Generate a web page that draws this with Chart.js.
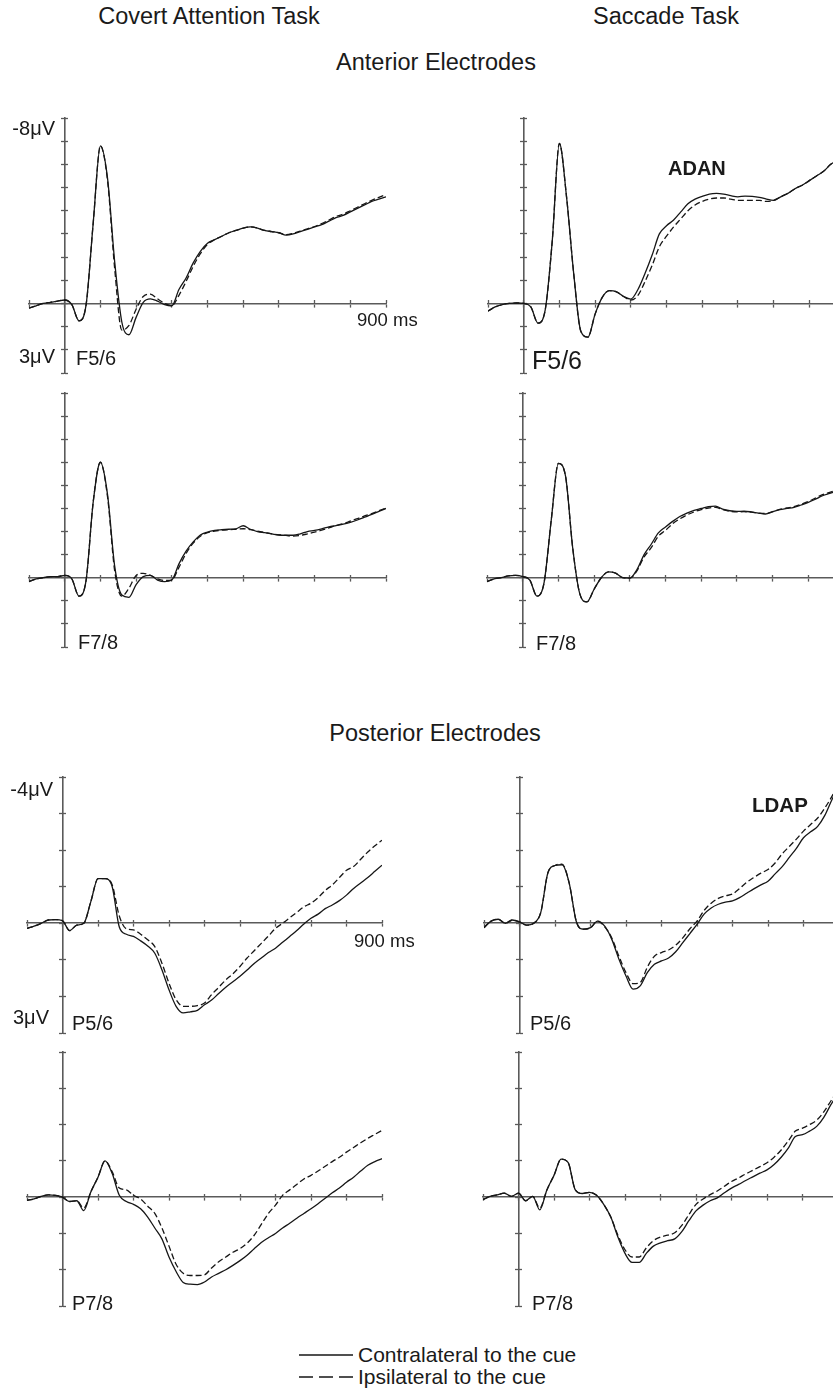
<!DOCTYPE html>
<html>
<head>
<meta charset="utf-8">
<script src="https://cdn.jsdelivr.net/npm/chart.js@4.4.1/dist/chart.umd.min.js"></script>
<style>
  html, body { margin: 0; padding: 0; background: #fff; overflow: hidden; }
  body { position: relative; width: 833px; height: 1390px; font-family: 'Liberation Sans', Arial, Helvetica, sans-serif; color: #1a1a1a; }
  .t { position: absolute; white-space: nowrap; line-height: 1; }
  canvas { position: absolute; }
</style>
</head>
<body>
<script>
// time points (ms), shared by every panel
const times = [-100, -80, -60, -40, -20, 0, 20, 40, 60, 80, 100, 120, 140, 160, 180, 200, 220, 240, 260, 280,
  300, 320, 340, 360, 380, 400, 420, 440, 460, 480, 500, 520, 540, 560, 580, 600, 620, 640, 660, 680,
  700, 720, 740, 760, 780, 800, 820, 840, 860, 880, 900];

// amplitudes in microvolts (negative plotted up)
const covertF56Contra = [0.2, 0.1, 0.0, -0.05, -0.1, -0.15, 0.05, 0.75, 0.05, -3.5, -6.8, -5.4, -1.8, 0.8, 1.35, 0.6, -0.05, -0.2, -0.1, 0.05,
  0.1, -0.6, -1.1, -1.75, -2.25, -2.6, -2.75, -2.9, -3.05, -3.15, -3.25, -3.3, -3.25, -3.15, -3.1, -3.05, -2.95, -3.0, -3.1, -3.2,
  -3.3, -3.4, -3.55, -3.7, -3.8, -3.95, -4.1, -4.25, -4.4, -4.5, -4.6];
const covertF56Ipsi = [0.2, 0.1, 0.0, -0.05, -0.1, -0.15, 0.05, 0.75, 0.05, -3.5, -6.8, -5.3, -1.5, 1.15, 0.95, 0.25, -0.3, -0.4, -0.2, 0.0,
  0.1, -0.35, -0.95, -1.6, -2.15, -2.55, -2.75, -2.9, -3.05, -3.15, -3.25, -3.3, -3.25, -3.15, -3.1, -3.05, -2.97, -3.02, -3.12, -3.22,
  -3.32, -3.45, -3.6, -3.75, -3.85, -4.0, -4.15, -4.3, -4.45, -4.58, -4.7];

const covertF78Contra = [0.17, 0.05, 0.0, -0.05, -0.05, -0.1, 0.05, 0.8, 0.1, -3.3, -5.0, -3.6, -0.5, 0.75, 0.85, 0.3, -0.05, -0.1, 0.1, 0.17,
  0.1, -0.6, -1.15, -1.55, -1.85, -1.98, -2.05, -2.08, -2.1, -2.12, -2.25, -2.1, -2.0, -1.95, -1.9, -1.85, -1.84, -1.84, -1.9, -2.0,
  -2.05, -2.12, -2.2, -2.26, -2.32, -2.4, -2.5, -2.62, -2.74, -2.87, -3.0];
const covertF78Ipsi = [0.17, 0.05, 0.0, -0.05, -0.05, -0.1, 0.05, 0.8, 0.1, -3.3, -5.0, -3.5, -0.3, 0.8, 0.45, -0.1, -0.19, -0.1, 0.05, 0.12,
  0.1, -0.45, -1.05, -1.5, -1.8, -1.95, -2.02, -2.06, -2.08, -2.1, -2.12, -2.08, -2.02, -1.96, -1.9, -1.86, -1.83, -1.8, -1.83, -1.9,
  -1.98, -2.06, -2.16, -2.26, -2.34, -2.45, -2.56, -2.68, -2.78, -2.9, -3.02];

const saccF56Contra = [0.33, 0.15, 0.05, 0.0, -0.02, 0.0, 0.15, 0.85, 0.3, -2.7, -6.9, -4.6, -1.3, 1.2, 1.45, 0.46, -0.26, -0.55, -0.5, -0.3,
  -0.19, -0.6, -1.3, -2.1, -3.0, -3.35, -3.6, -3.95, -4.3, -4.5, -4.62, -4.72, -4.75, -4.72, -4.65, -4.6, -4.63, -4.62, -4.58, -4.5,
  -4.45, -4.6, -4.75, -4.95, -5.1, -5.3, -5.5, -5.7, -6.0, -6.2, -6.4];
const saccF56Ipsi = [0.33, 0.15, 0.05, 0.0, -0.02, 0.0, 0.15, 0.85, 0.3, -2.7, -6.9, -4.6, -1.3, 1.2, 1.45, 0.46, -0.26, -0.55, -0.5, -0.3,
  -0.15, -0.35, -0.95, -1.65, -2.45, -2.9, -3.3, -3.65, -4.0, -4.25, -4.4, -4.5, -4.55, -4.55, -4.5, -4.45, -4.45, -4.45, -4.45, -4.4,
  -4.45, -4.6, -4.75, -4.95, -5.1, -5.3, -5.5, -5.7, -6.0, -6.2, -6.4];

const saccF78Contra = [0.17, 0.05, 0.0, -0.08, -0.1, -0.05, 0.1, 0.8, 0.2, -2.5, -4.95, -4.4, -1.3, 0.7, 1.05, 0.5, 0.0, -0.25, -0.2, 0.0,
  0.02, -0.35, -1.0, -1.45, -1.94, -2.2, -2.44, -2.65, -2.8, -2.92, -3.0, -3.08, -3.1, -2.97, -2.9, -2.87, -2.88, -2.85, -2.8, -2.76,
  -2.85, -2.95, -3.0, -3.05, -3.15, -3.26, -3.4, -3.55, -3.65, -3.75, -3.85];
const saccF78Ipsi = [0.17, 0.05, 0.0, -0.08, -0.1, -0.05, 0.1, 0.8, 0.2, -2.5, -4.95, -4.4, -1.3, 0.7, 1.05, 0.5, 0.0, -0.25, -0.2, 0.0,
  0.02, -0.3, -0.9, -1.3, -1.8, -2.05, -2.34, -2.55, -2.72, -2.85, -2.95, -3.02, -3.05, -2.95, -2.88, -2.85, -2.86, -2.84, -2.8, -2.78,
  -2.86, -2.96, -3.02, -3.08, -3.18, -3.3, -3.45, -3.6, -3.7, -3.8, -3.9];

const covertP56Contra = [0.14, 0.08, 0.0, -0.09, -0.1, -0.07, 0.2, 0.05, 0.0, -0.6, -1.22, -1.22, -1.0, 0.1, 0.3, 0.36, 0.48, 0.62, 0.82, 1.27,
  1.82, 2.27, 2.45, 2.42, 2.38, 2.23, 2.1, 1.92, 1.75, 1.6, 1.45, 1.28, 1.1, 0.95, 0.8, 0.68, 0.52, 0.36, 0.2, 0.02,
  -0.14, -0.25, -0.4, -0.5, -0.62, -0.77, -0.95, -1.1, -1.25, -1.42, -1.59];
const covertP56Ipsi = [0.14, 0.08, 0.0, -0.09, -0.1, -0.07, 0.2, 0.05, 0.0, -0.6, -1.22, -1.22, -1.05, -0.2, 0.15, 0.18, 0.3, 0.45, 0.64, 1.09,
  1.64, 2.09, 2.27, 2.27, 2.25, 2.18, 1.95, 1.75, 1.55, 1.38, 1.18, 0.95, 0.75, 0.55, 0.35, 0.14, 0.0, -0.15, -0.3, -0.45,
  -0.55, -0.7, -0.9, -1.05, -1.25, -1.45, -1.55, -1.75, -1.95, -2.12, -2.27];

const saccP56Contra = [0.12, -0.06, -0.11, 0.0, -0.09, -0.04, 0.05, 0.0, -0.3, -1.38, -1.58, -1.6, -1.1, -0.05, 0.16, 0.12, -0.06, 0.08, 0.44, 0.98,
  1.44, 1.8, 1.71, 1.35, 1.12, 1.03, 0.95, 0.78, 0.53, 0.28, 0.03, -0.25, -0.42, -0.52, -0.58, -0.61, -0.7, -0.82, -0.94, -1.05,
  -1.15, -1.35, -1.55, -1.8, -2.05, -2.34, -2.5, -2.65, -2.95, -3.38, -3.75];
const saccP56Ipsi = [0.12, -0.06, -0.11, 0.0, -0.09, -0.04, 0.05, 0.0, -0.3, -1.38, -1.58, -1.62, -1.1, -0.05, 0.16, 0.12, -0.06, 0.1, 0.4, 0.9,
  1.35, 1.65, 1.62, 1.2, 0.9, 0.8, 0.73, 0.6, 0.4, 0.15, -0.06, -0.35, -0.55, -0.68, -0.75, -0.8, -0.95, -1.12, -1.25, -1.37,
  -1.47, -1.65, -1.9, -2.1, -2.3, -2.52, -2.7, -2.88, -3.15, -3.47, -3.85];

const covertP78Contra = [0.09, 0.05, -0.02, -0.06, -0.05, 0.0, 0.12, 0.1, 0.37, -0.15, -0.55, -1.0, -0.65, -0.05, 0.12, 0.2, 0.32, 0.55, 0.85, 1.15,
  1.65, 2.05, 2.35, 2.4, 2.41, 2.34, 2.2, 2.1, 2.0, 1.88, 1.75, 1.6, 1.42, 1.25, 1.12, 1.0, 0.85, 0.72, 0.58, 0.45,
  0.32, 0.18, 0.03, -0.12, -0.25, -0.41, -0.55, -0.72, -0.88, -0.98, -1.06];
const covertP78Ipsi = [0.09, 0.05, -0.02, -0.06, -0.05, 0.0, 0.12, 0.1, 0.3, -0.15, -0.55, -1.0, -0.7, -0.25, -0.2, -0.05, 0.05, 0.25, 0.45, 0.85,
  1.35, 1.85, 2.1, 2.16, 2.16, 2.14, 1.95, 1.78, 1.65, 1.52, 1.42, 1.27, 1.05, 0.75, 0.45, 0.22, -0.05, -0.2, -0.35, -0.5,
  -0.6, -0.72, -0.85, -0.98, -1.1, -1.24, -1.37, -1.5, -1.62, -1.73, -1.84];

const saccP78Contra = [0.07, -0.02, -0.06, -0.11, -0.02, -0.11, 0.1, -0.02, 0.35, -0.2, -0.6, -1.05, -0.95, -0.2, -0.1, -0.13, -0.05, 0.2, 0.55, 1.1,
  1.55, 1.8, 1.8, 1.55, 1.35, 1.26, 1.2, 1.15, 0.95, 0.65, 0.38, 0.22, 0.1, 0.02, -0.12, -0.25, -0.35, -0.46, -0.56, -0.66,
  -0.75, -0.9, -1.1, -1.35, -1.67, -1.72, -1.82, -1.95, -2.2, -2.55, -2.85];
const saccP78Ipsi = [0.07, -0.02, -0.06, -0.11, -0.02, -0.11, 0.1, -0.02, 0.3, -0.2, -0.6, -1.05, -0.95, -0.2, -0.1, -0.13, -0.05, 0.2, 0.55, 1.05,
  1.45, 1.65, 1.65, 1.4, 1.2, 1.1, 1.05, 0.98, 0.78, 0.48, 0.2, 0.05, -0.07, -0.17, -0.3, -0.43, -0.53, -0.64, -0.74, -0.84,
  -0.95, -1.1, -1.3, -1.55, -1.82, -1.9, -2.0, -2.12, -2.35, -2.65, -2.95];

const AXIS = '#5a5a5a';
const INK = '#161616';
const PAD = 10;

// chart area of each panel in page pixels: [left, top, right, bottom]
const panels = [
  { box: [29, 118, 386, 373], yMin: -8, contra: covertF56Contra, ipsi: covertF56Ipsi },
  { box: [29, 393, 386, 647], yMin: -8, contra: covertF78Contra, ipsi: covertF78Ipsi },
  { box: [488, 118, 845, 373], yMin: -8, contra: saccF56Contra, ipsi: saccF56Ipsi },
  { box: [487, 393, 844, 647], yMin: -8, contra: saccF78Contra, ipsi: saccF78Ipsi },
  { box: [27, 777, 382, 1033], yMin: -4, contra: covertP56Contra, ipsi: covertP56Ipsi },
  { box: [484, 777, 839, 1033], yMin: -4, contra: saccP56Contra, ipsi: saccP56Ipsi },
  { box: [27, 1052, 382, 1306], yMin: -4, contra: covertP78Contra, ipsi: covertP78Ipsi },
  { box: [483, 1052, 838, 1306], yMin: -4, contra: saccP78Contra, ipsi: saccP78Ipsi }
];

function axisOpts(axis, min, max, step, pos, tickLen, showBorder) {
  return {
    axis: axis,
    type: 'linear',
    min: min,
    max: max,
    reverse: axis === 'y',
    position: pos,
    ticks: { display: false, stepSize: step },
    grid: { drawOnChartArea: false, drawTicks: true, tickLength: tickLen, tickColor: AXIS, tickWidth: 1.3 },
    border: { display: showBorder, color: AXIS, width: 1.6 }
  };
}

function series(values, dash) {
  return {
    data: times.map((t, i) => ({ x: t, y: values[i] })),
    borderColor: INK,
    borderWidth: 1.3,
    borderDash: dash,
    pointRadius: 0,
    cubicInterpolationMode: 'monotone',
    fill: false
  };
}

panels.forEach(p => {
  const [l, t, r, b] = p.box;
  const w = r - l + 2 * PAD, h = b - t + 2 * PAD;
  const canvas = document.createElement('canvas');
  canvas.width = w;
  canvas.height = h;
  canvas.style.left = (l - PAD) + 'px';
  canvas.style.top = (t - PAD) + 'px';
  canvas.style.width = w + 'px';
  canvas.style.height = h + 'px';
  document.body.appendChild(canvas);

  new Chart(canvas, {
    type: 'line',
    data: { datasets: [series(p.contra, []), series(p.ipsi, [6, 3])] },
    options: {
      responsive: false,
      animation: false,
      events: [],
      layout: { padding: PAD },
      plugins: { legend: { display: false }, tooltip: { enabled: false } },
      scales: {
        x: axisOpts('x', -100, 900, 100, { y: 0 }, 3, true),
        xUp: axisOpts('x', -100, 900, 100, { y: 0 }, -3, false),
        y: axisOpts('y', p.yMin, 3, 1, { x: 0 }, 3, true),
        yRight: axisOpts('y', p.yMin, 3, 1, { x: 0 }, -3, false)
      }
    }
  });
});

// text: [string, x, baseline, size, align, bold]
const texts = [
  ['Covert Attention Task', 209, 25, 23.5, 'center'],
  ['Saccade Task', 666, 25, 23.5, 'center'],
  ['Anterior Electrodes', 436, 71, 23.5, 'center'],
  ['Posterior Electrodes', 435, 742, 23.5, 'center'],
  ['-8\u03bcV', 55, 135, 20, 'right'],
  ['3\u03bcV', 55, 363, 20, 'right'],
  ['F5/6', 76, 365, 20],
  ['900 ms', 357, 327, 18.5],
  ['ADAN', 668, 175, 20, 'left', true],
  ['F5/6', 532, 369, 25],
  ['F7/8', 78, 649, 20],
  ['F7/8', 536, 650, 20],
  ['-4\u03bcV', 53, 796, 20, 'right'],
  ['900 ms', 354, 948, 18.5],
  ['LDAP', 752, 812, 20.5, 'left', true],
  ['3\u03bcV', 49, 1024, 20, 'right'],
  ['P5/6', 72, 1030, 20],
  ['P5/6', 530, 1030, 20],
  ['P7/8', 72, 1310, 20],
  ['P7/8', 532, 1310, 20],
  ['Contralateral to the cue', 358, 1362, 21],
  ['Ipsilateral to the cue', 358, 1384, 21]
];

texts.forEach(([s, x, base, size, align, bold]) => {
  const d = document.createElement('div');
  d.className = 't';
  d.textContent = s;
  d.style.fontSize = size + 'px';
  d.style.left = x + 'px';
  d.style.top = (base - 0.8465 * size) + 'px';
  if (bold) d.style.fontWeight = 'bold';
  if (align === 'center') d.style.transform = 'translateX(-50%)';
  if (align === 'right') d.style.transform = 'translateX(-100%)';
  document.body.appendChild(d);
});

// legend line samples
const svgNS = 'http://www.w3.org/2000/svg';
const svg = document.createElementNS(svgNS, 'svg');
svg.setAttribute('width', '70');
svg.setAttribute('height', '40');
svg.style.position = 'absolute';
svg.style.left = '295px';
svg.style.top = '1345px';
[[10, 'none'], [32, '14 6']].forEach(([y, dash]) => {
  const ln = document.createElementNS(svgNS, 'line');
  ln.setAttribute('x1', '4');
  ln.setAttribute('x2', '58');
  ln.setAttribute('y1', y);
  ln.setAttribute('y2', y);
  ln.setAttribute('stroke', INK);
  ln.setAttribute('stroke-width', '1.3');
  if (dash !== 'none') ln.setAttribute('stroke-dasharray', dash);
  svg.appendChild(ln);
});
document.body.appendChild(svg);
</script>
</body>
</html>
